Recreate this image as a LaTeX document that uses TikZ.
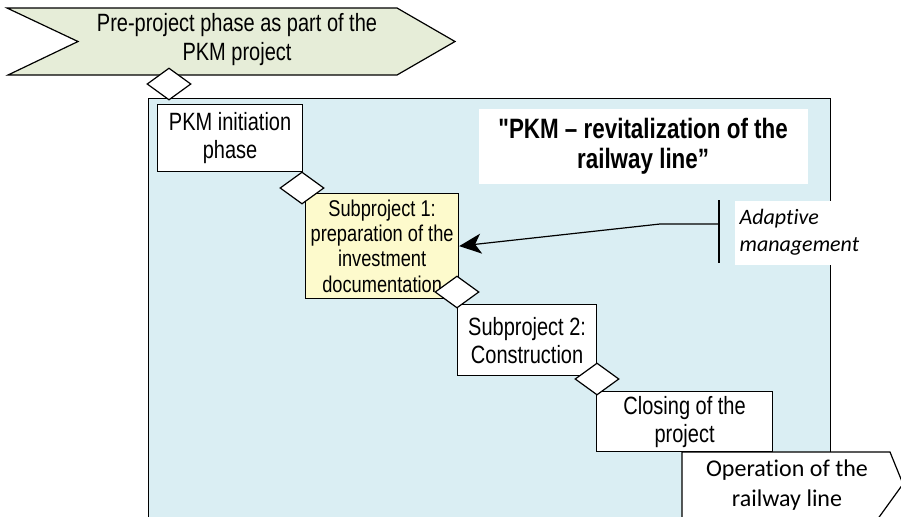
\documentclass[tikz,border=0pt]{standalone}
\usepackage{fontspec}
\usepackage{tikz}
\usetikzlibrary{shapes.geometric}
\usetikzlibrary{arrows.meta}
\newfontfamily\narrowsf{Liberation Sans}[FakeStretch=0.8]
\newfontfamily\calsf{Carlito}[Ligatures=NoCommon]
\definecolor{prefill}{RGB}{230,237,216}
\definecolor{projfill}{RGB}{218,238,243}
\definecolor{subfill}{RGB}{253,250,204}

\begin{document}
\begin{tikzpicture}[x=0.5pt,y=-0.5pt,line width=0.6pt,
	phase/.style={draw,fill=white,anchor=north west,inner sep=0pt,align=center,
	font=\narrowsf\fontsize{12.5}{14}\selectfont},
	gate/.style={diamond,draw,fill=white,minimum width=22pt,
	minimum height=16pt,inner sep=0pt}]
\useasboundingbox (0,0) rectangle (901,516);
\clip (0,0) rectangle (901,516);
% project frame
\node [draw,fill=projfill,anchor=north west,inner sep=0pt,
	minimum width=341pt,minimum height=221pt] (proj) at (148,98) {};
% pre-project phase
\draw [fill=prefill] (7,8) -- (397,8) -- (455,41.5) -- (397,75) -- (8,75)
	-- (78,41.5) -- cycle;
\node [align=center,font=\narrowsf\fontsize{12.5}{14.5}\selectfont] (pre) at (237,40)
	{Pre-project phase as part of the\\PKM project};
\node [gate] (g1) at (169,84) {};
% phases
\node [phase,minimum width=72.5pt,minimum height=33.5pt] (init) at (157,104)
	{PKM initiation\\phase};
\node [phase,fill=subfill,minimum width=76.5pt,minimum height=52.5pt,
	font=\narrowsf\fontsize{11.4}{12.7}\selectfont] (sub1) at (305,193)
	{Subproject 1:\\preparation of the\\investment\\documentation};
\node [phase,minimum width=69.5pt,minimum height=35.5pt] (sub2) at (457,304)
	{Subproject 2:\\Construction};
\node [phase,minimum width=88pt,minimum height=30pt] (close) at (596,391)
	{Closing of the\\project};
% operation
\draw [fill=white] (682,540) -- (682,452) -- (890,452) -- (903,484) -- (877,520);
\node [align=center,font=\calsf\fontsize{12}{15}\selectfont] (oper) at (787,485)
	{Operation of the\\railway line};
\node [gate] (g2) at (302,188) {};
\node [gate] (g3) at (457,292) {};
\node [gate] (g4) at (597,379) {};
% title
\node [fill=white,anchor=north west,inner sep=0pt,align=center,
	minimum width=164.5pt,minimum height=37.5pt,
	font=\narrowsf\bfseries\fontsize{14}{15}\selectfont] (title) at (478,108)
	{"PKM – revitalization of the\\railway line”};
% adaptive management
\node [fill=white,anchor=north west,inner sep=2.5pt,align=left,
	minimum height=32pt,font=\calsf\itshape\fontsize{11}{13.5}\selectfont]
	(adapt) at (734,200) {Adaptive\\management};
\coordinate (bartop) at (719,200);
\coordinate (barbot) at (719,263);
\coordinate (barmid) at (719,224);
\coordinate (bend) at (660,224);
\draw (bartop) -- (barbot);
\draw [-{Stealth[length=11pt,width=10pt,inset=3pt]}] (barmid) -- (bend)
	-- (sub1.east);
\end{tikzpicture}
\end{document}
